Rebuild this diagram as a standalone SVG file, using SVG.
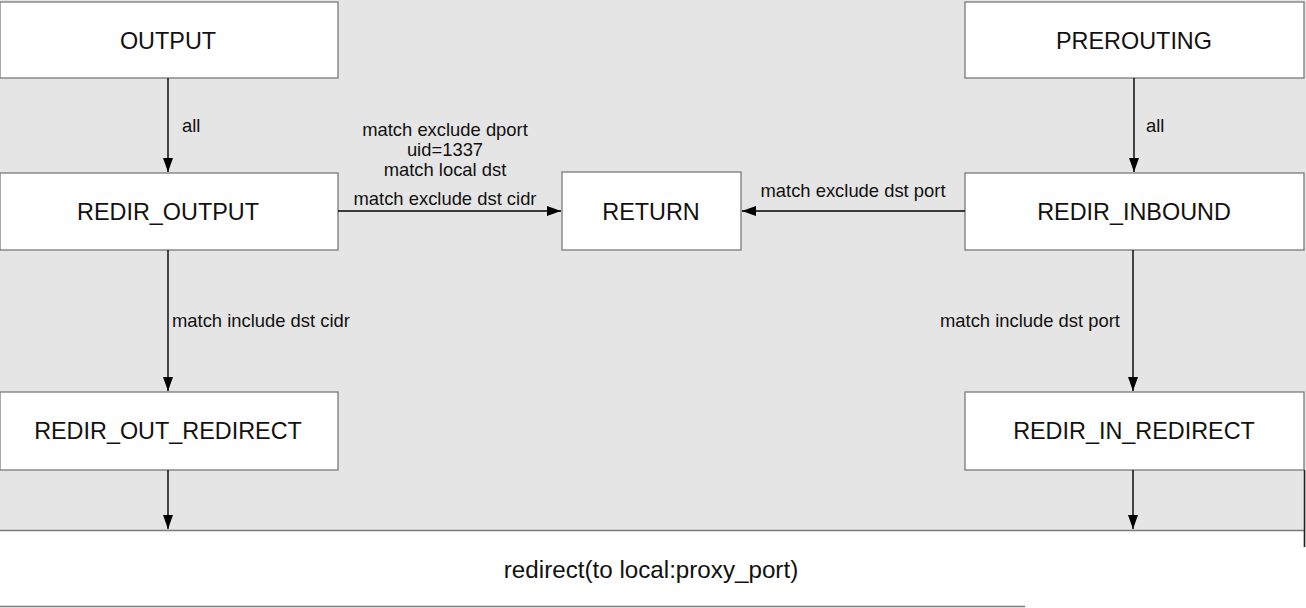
<svg xmlns="http://www.w3.org/2000/svg" width="1306" height="608" viewBox="0 0 1306 608">
<style>
.node rect{fill:#ffffff;stroke:#7a7a7a;stroke-width:1.3}
.nt{font-family:"Liberation Sans",Arial,Helvetica,sans-serif;font-size:23.4px;fill:#111;text-anchor:middle;dominant-baseline:central}
.lbl{font-family:"Liberation Sans",Arial,Helvetica,sans-serif;font-size:18.4px;fill:#111}
.edge{stroke:#000;stroke-width:1.4;fill:none;marker-end:url(#arr)}
</style>
<defs>
<marker id="arr" viewBox="0 0 14 10" refX="14" refY="5" markerWidth="14" markerHeight="10" markerUnits="userSpaceOnUse" orient="auto">
<path d="M0,0 L14,5 L0,10 z" fill="#000"/>
</marker>
</defs>
<rect x="0" y="0" width="1306" height="608" fill="#e5e5e5"/>
<g id="n-output" class="node"><rect x="0" y="2" width="338" height="76"/><text class="nt" x="168" y="41">OUTPUT</text></g>
<g id="n-prerouting" class="node"><rect x="965" y="2" width="339" height="76"/><text class="nt" x="1134" y="41">PREROUTING</text></g>
<g id="n-redir-output" class="node"><rect x="0" y="173" width="338" height="77"/><text class="nt" x="168" y="212">REDIR_OUTPUT</text></g>
<g id="n-return" class="node"><rect x="562" y="172" width="179" height="78"/><text class="nt" x="651" y="212">RETURN</text></g>
<g id="n-redir-inbound" class="node"><rect x="965" y="173" width="339" height="77"/><text class="nt" x="1134" y="212">REDIR_INBOUND</text></g>
<g id="n-redir-out-redirect" class="node"><rect x="0" y="392" width="338" height="78"/><text class="nt" x="168" y="431">REDIR_OUT_REDIRECT</text></g>
<g id="n-redir-in-redirect" class="node"><rect x="965" y="392" width="339" height="78"/><text class="nt" x="1134" y="431">REDIR_IN_REDIRECT</text></g>
<g id="n-redirect">
<rect x="0" y="530" width="1306" height="78" fill="#ffffff"/>
<path d="M0,530.5 H1304 M1304.5,530 V547 M0,606.5 H1025" stroke="#7a7a7a" stroke-width="1.3" fill="none"/>
<path d="M1304.5,470 V547" stroke="#222" stroke-width="1.5" fill="none"/>
<text class="nt" x="651" y="569" style="font-size:24.2px">redirect(to local:proxy_port)</text>
</g>
<g id="connectors">
<line class="edge" x1="168" y1="78" x2="168" y2="172"/>
<line class="edge" x1="1134" y1="78" x2="1134" y2="172"/>
<line class="edge" x1="338" y1="211" x2="561" y2="211"/>
<line class="edge" x1="965" y1="211" x2="742" y2="211"/>
<line class="edge" x1="168" y1="250" x2="168" y2="391"/>
<line class="edge" x1="1133" y1="250" x2="1133" y2="391"/>
<line class="edge" x1="168" y1="470" x2="168" y2="529"/>
<line class="edge" x1="1133" y1="470" x2="1133" y2="529"/>
<text class="lbl" x="182" y="132">all</text>
<text class="lbl" x="1146" y="132">all</text>
<text class="lbl" text-anchor="middle" x="445" y="136">match exclude dport</text>
<text class="lbl" text-anchor="middle" x="445" y="156">uid=1337</text>
<text class="lbl" text-anchor="middle" x="445" y="176">match local dst</text>
<text class="lbl" text-anchor="middle" x="445" y="205">match exclude dst cidr</text>
<text class="lbl" text-anchor="middle" x="853" y="197">match exclude dst port</text>
<text class="lbl" x="172" y="327">match include dst cidr</text>
<text class="lbl" x="940" y="327">match include dst port</text>
</g>
</svg>
